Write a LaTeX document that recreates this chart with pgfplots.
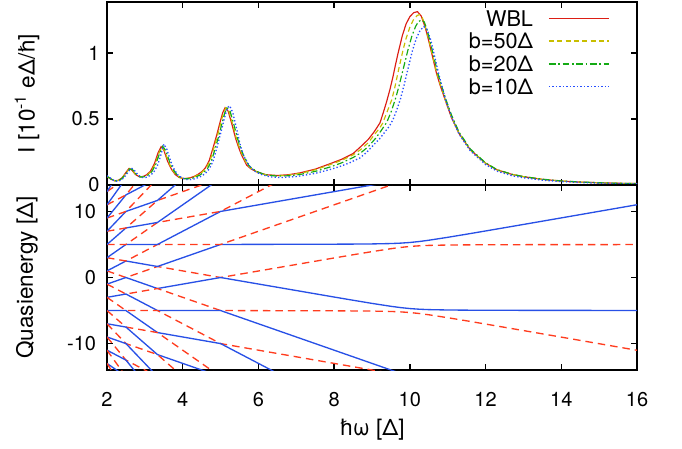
\documentclass[border=0pt]{standalone}
\usepackage{fontspec}
\setmainfont{TeX Gyre Heros}
\usepackage{pgfplots}
\pgfplotsset{compat=1.18}
\definecolor{wblred}{RGB}{220,30,20}
\definecolor{bfiftyyellow}{RGB}{200,190,0}
\definecolor{btwentygreen}{RGB}{20,170,20}
\definecolor{btenblue}{RGB}{40,80,255}
\definecolor{qblue}{RGB}{40,80,230}
\definecolor{qred}{RGB}{255,60,30}
\pgfplotsset{
  common/.style={scale only axis, width=318pt, xmin=2, xmax=16, xtick={2,4,...,16},
    axis line style={line width=1.1pt}, major tick length=3.5pt,
    every tick/.style={black, line width=0.8pt}, tick align=inside,
    /pgf/number format/assume math mode=true,
    tick label style={font=\fontsize{12}{14}\selectfont},
    label style={font=\fontsize{13.5}{16}\selectfont}},
  qb/.style={color=qblue, line width=0.8pt, solid},
  qr/.style={color=qred, line width=0.8pt, dash pattern=on 4.5pt off 3pt},
}
\begin{document}
\begin{tikzpicture}
\path[use as bounding box] (-64.2pt,-46.8pt) rectangle (345pt,222pt);
\begin{axis}[common, at={(0,111pt)}, anchor=south west, height=109.8pt,
  ymin=0, ymax=1.386, ytick={0,0.5,1}, xticklabel=\empty,
  yticklabel style={xshift=-1pt},
  ylabel={I [10\textsuperscript{-1} eΔ/ħ]},
  ylabel style={at={(axis description cs:-0.151,0.5)}, anchor=center},
  legend style={draw=none, fill=none, at={(1,1)}, anchor=north east, xshift=-16.2pt, yshift=-4.9pt,
    inner sep=0pt, row sep=4.2pt, column sep=9pt, font=\fontsize{13}{15}\selectfont,
    nodes={inner sep=0pt, text height=9.4pt, text depth=0pt}},
  legend plot pos=right, legend cell align=right]
\addplot[color=wblred, line width=0.7pt, legend image code/.code={\draw[color=wblred, line width=0.9pt] (0pt,0pt) -- (36pt,0pt);}] coordinates {(2.0,0.065)(2.1,0.045)(2.2,0.032)(2.3,0.035)(2.4,0.055)(2.5,0.095)(2.58,0.125)(2.65,0.115)(2.75,0.08)(2.85,0.063)(2.95,0.064)(3.05,0.078)(3.15,0.105)(3.25,0.16)(3.35,0.245)(3.43,0.29)(3.5,0.265)(3.6,0.18)(3.7,0.12)(3.8,0.08)(3.9,0.058)(4.0,0.05)(4.1,0.05)(4.2,0.055)(4.3,0.065)(4.4,0.08)(4.5,0.10)(4.6,0.13)(4.7,0.185)(4.8,0.28)(4.9,0.38)(5.0,0.49)(5.06,0.55)(5.12,0.585)(5.2,0.56)(5.3,0.46)(5.4,0.35)(5.47,0.29)(5.55,0.23)(5.69,0.15)(5.8,0.123)(5.95,0.10)(6.2,0.078)(6.5,0.072)(6.8,0.078)(7.1,0.092)(7.5,0.12)(7.9,0.162)(8.2,0.195)(8.5,0.238)(8.7,0.29)(8.9,0.345)(9.05,0.40)(9.21,0.47)(9.3,0.55)(9.39,0.635)(9.475,0.725)(9.55,0.815)(9.62,0.91)(9.69,1.0)(9.8,1.13)(9.9,1.22)(10.0,1.275)(10.1,1.305)(10.2,1.313)(10.3,1.28)(10.4,1.2)(10.5,1.09)(10.6,0.97)(10.7,0.85)(10.8,0.755)(10.95,0.63)(11.1,0.51)(11.3,0.39)(11.6,0.265)(12.0,0.165)(12.3,0.115)(12.7,0.08)(13.0,0.063)(13.5,0.043)(14.0,0.03)(14.5,0.022)(15.0,0.017)(15.5,0.013)(16.0,0.011)};
\addlegendentry{WBL}
\addplot[color=bfiftyyellow, line width=0.7pt, dash pattern=on 3pt off 2pt, legend image code/.code={\draw[color=bfiftyyellow, line width=0.9pt, dash pattern=on 3pt off 2pt] (0pt,0pt) -- (36pt,0pt);}] coordinates {(2.0,0.065)(2.1,0.046)(2.2,0.032)(2.3,0.034)(2.4,0.052)(2.5,0.09)(2.6,0.125)(2.67,0.112)(2.77,0.078)(2.87,0.062)(2.97,0.064)(3.07,0.077)(3.17,0.103)(3.27,0.157)(3.37,0.24)(3.45,0.29)(3.52,0.262)(3.62,0.178)(3.72,0.118)(3.82,0.079)(3.92,0.057)(4.02,0.049)(4.12,0.049)(4.22,0.054)(4.32,0.064)(4.42,0.079)(4.52,0.099)(4.62,0.129)(4.72,0.183)(4.82,0.277)(4.92,0.377)(5.02,0.487)(5.08,0.548)(5.14,0.585)(5.22,0.56)(5.32,0.46)(5.42,0.35)(5.49,0.29)(5.57,0.23)(5.71,0.15)(5.82,0.123)(5.97,0.099)(6.2,0.077)(6.5,0.07)(6.8,0.075)(7.1,0.088)(7.5,0.115)(7.9,0.155)(8.2,0.187)(8.5,0.228)(8.7,0.268)(8.9,0.32)(9.1,0.395)(9.2,0.43)(9.28,0.467)(9.4,0.555)(9.52,0.644)(9.6,0.735)(9.7,0.87)(9.82,1.023)(9.9,1.11)(10.0,1.195)(10.1,1.255)(10.2,1.285)(10.26,1.29)(10.32,1.275)(10.4,1.21)(10.5,1.1)(10.6,0.98)(10.7,0.86)(10.8,0.765)(10.95,0.635)(11.1,0.515)(11.3,0.392)(11.6,0.266)(12.0,0.165)(12.3,0.115)(12.7,0.08)(13.0,0.063)(13.5,0.043)(14.0,0.03)(14.5,0.022)(15.0,0.017)(15.5,0.013)(16.0,0.011)};
\addlegendentry{b=50Δ}
\addplot[color=btwentygreen, line width=0.7pt, dash pattern=on 4pt off 1.6pt on 1pt off 1.6pt, legend image code/.code={\draw[color=btwentygreen, line width=1pt, dash pattern=on 4pt off 1.6pt on 1pt off 1.6pt] (0pt,0pt) -- (36pt,0pt);}] coordinates {(2.0,0.066)(2.1,0.047)(2.2,0.032)(2.3,0.033)(2.4,0.05)(2.5,0.085)(2.6,0.122)(2.68,0.115)(2.78,0.078)(2.88,0.06)(2.98,0.062)(3.08,0.074)(3.18,0.1)(3.28,0.15)(3.38,0.232)(3.47,0.293)(3.55,0.262)(3.65,0.178)(3.75,0.117)(3.85,0.077)(3.95,0.055)(4.05,0.047)(4.15,0.047)(4.25,0.052)(4.35,0.061)(4.45,0.075)(4.55,0.094)(4.65,0.122)(4.75,0.175)(4.85,0.268)(4.95,0.37)(5.05,0.48)(5.11,0.545)(5.17,0.583)(5.25,0.56)(5.35,0.46)(5.45,0.35)(5.52,0.29)(5.6,0.23)(5.74,0.15)(5.85,0.122)(6.0,0.097)(6.2,0.076)(6.5,0.067)(6.8,0.07)(7.1,0.08)(7.5,0.103)(7.9,0.137)(8.2,0.168)(8.5,0.208)(8.7,0.243)(8.9,0.29)(9.1,0.355)(9.25,0.415)(9.39,0.475)(9.5,0.55)(9.61,0.644)(9.7,0.735)(9.8,0.85)(9.95,1.023)(10.05,1.125)(10.15,1.2)(10.22,1.235)(10.3,1.25)(10.38,1.235)(10.45,1.18)(10.55,1.07)(10.65,0.95)(10.75,0.835)(10.85,0.74)(10.95,0.65)(11.1,0.53)(11.3,0.40)(11.6,0.272)(12.0,0.168)(12.3,0.117)(12.7,0.081)(13.0,0.064)(13.5,0.044)(14.0,0.031)(14.5,0.023)(15.0,0.017)(15.5,0.013)(16.0,0.011)};
\addlegendentry{b=20Δ}
\addplot[color=btenblue, line width=0.8pt, dash pattern=on 0.8pt off 1.3pt, legend image code/.code={\draw[color=btenblue, line width=0.9pt, dash pattern=on 0.8pt off 1.3pt] (0pt,0pt) -- (36pt,0pt);}] coordinates {(2.0,0.07)(2.1,0.05)(2.2,0.031)(2.3,0.028)(2.4,0.042)(2.5,0.075)(2.6,0.115)(2.66,0.125)(2.73,0.108)(2.83,0.073)(2.93,0.057)(3.03,0.058)(3.13,0.07)(3.23,0.095)(3.33,0.145)(3.42,0.225)(3.5,0.31)(3.58,0.272)(3.68,0.18)(3.78,0.115)(3.88,0.074)(4.0,0.05)(4.1,0.042)(4.2,0.041)(4.3,0.046)(4.4,0.055)(4.5,0.068)(4.6,0.088)(4.7,0.122)(4.8,0.18)(4.91,0.29)(5.0,0.39)(5.1,0.505)(5.18,0.585)(5.24,0.6)(5.32,0.55)(5.42,0.43)(5.53,0.29)(5.62,0.215)(5.77,0.14)(5.9,0.105)(6.05,0.082)(6.3,0.062)(6.6,0.056)(7.0,0.064)(7.5,0.088)(7.9,0.118)(8.15,0.14)(8.4,0.167)(8.68,0.205)(8.85,0.245)(9.03,0.3)(9.2,0.35)(9.35,0.405)(9.47,0.45)(9.56,0.5)(9.65,0.565)(9.75,0.65)(9.85,0.76)(9.95,0.88)(10.07,1.02)(10.17,1.11)(10.27,1.17)(10.37,1.2)(10.45,1.18)(10.55,1.1)(10.65,0.98)(10.75,0.855)(10.85,0.745)(10.95,0.64)(11.1,0.515)(11.3,0.385)(11.6,0.258)(12.0,0.155)(12.3,0.105)(12.7,0.07)(13.0,0.055)(13.5,0.037)(14.0,0.026)(14.5,0.019)(15.0,0.014)(15.5,0.011)(16.0,0.009)};
\addlegendentry{b=10Δ}
\end{axis}
\begin{axis}[common, at={(0,0)}, anchor=south west, height=111pt,
  ymin=-14, ymax=14, ytick={-10,0,10},
  yticklabel style={xshift=-3pt},
  xticklabel shift=10pt,
  xlabel={ħω [Δ]}, ylabel={Quasienergy [Δ]},
  xlabel style={at={(axis description cs:0.5,-0.324)}, anchor=center},
  ylabel style={at={(axis description cs:-0.151,0.5)}, anchor=center}]
% positive branches
\addplot[qr] coordinates {(2,1)(2.5,0)(3.3333,1.6667)(5,0)(7,1.97)(8,2.956)(8.5,3.442)(9,3.917)(9.5,4.36)(9.75,4.55)(10,4.7)(10.25,4.8)(10.5,4.86)(11,4.917)(11.5,4.942)(12,4.956)(13,4.97)(14,4.978)(16,4.985)};
\addplot[qb] coordinates {(2,1)(2.5,2.5)(3.3333,1.6667)(5,5)(7,5.03)(8,5.044)(8.5,5.058)(9,5.083)(9.5,5.14)(9.75,5.2)(10,5.3)(10.25,5.45)(10.5,5.64)(11,6.083)(11.5,6.558)(12,7.044)(13,8.03)(14,9.022)(16,11.015)};
\addplot[qr] coordinates {(2,3)(2.5,2.5)(3.3333,5)(5,5)(10,15)};
\addplot[qb] coordinates {(2,3)(2.5,5)(3.3333,5)(5,10)(10,15)};
\addplot[qr] coordinates {(2,5)(2.5,5)(3.3333,8.3333)(5,10)(10,25)};
\addplot[qb] coordinates {(2,5)(2.5,7.5)(3.3333,8.3333)(5,15)};
\addplot[qr] coordinates {(2,7)(2.5,7.5)(3.3333,11.6667)(5,15)};
\addplot[qb] coordinates {(2,7)(2.5,10)(3.3333,11.6667)(5,20)};
\addplot[qr] coordinates {(2,9)(2.5,10)(3.3333,15)};
\addplot[qb] coordinates {(2,9)(2.5,12.5)(3.3333,15)};
\addplot[qr] coordinates {(2,11)(2.5,12.5)(3.3333,18.3333)};
\addplot[qb] coordinates {(2,11)(2.5,15)};
\addplot[qr] coordinates {(2,13)(2.5,15)};
\addplot[qb] coordinates {(2,13)(2.5,17.5)};
% negative branches
\addplot[qb] coordinates {(2,-1)(2.5,0)(3.3333,-1.6667)(5,0)(7,-1.97)(8,-2.956)(8.5,-3.442)(9,-3.917)(9.5,-4.36)(9.75,-4.55)(10,-4.7)(10.25,-4.8)(10.5,-4.86)(11,-4.917)(11.5,-4.942)(12,-4.956)(13,-4.97)(14,-4.978)(16,-4.985)};
\addplot[qr] coordinates {(2,-1)(2.5,-2.5)(3.3333,-1.6667)(5,-5)(7,-5.03)(8,-5.044)(8.5,-5.058)(9,-5.083)(9.5,-5.14)(9.75,-5.2)(10,-5.3)(10.25,-5.45)(10.5,-5.64)(11,-6.083)(11.5,-6.558)(12,-7.044)(13,-8.03)(14,-9.022)(16,-11.015)};
\addplot[qb] coordinates {(2,-3)(2.5,-2.5)(3.3333,-5)(5,-5)(10,-15)};
\addplot[qr] coordinates {(2,-3)(2.5,-5)(3.3333,-5)(5,-10)(10,-15)};
\addplot[qb] coordinates {(2,-5)(2.5,-5)(3.3333,-8.3333)(5,-10)(10,-25)};
\addplot[qr] coordinates {(2,-5)(2.5,-7.5)(3.3333,-8.3333)(5,-15)};
\addplot[qb] coordinates {(2,-7)(2.5,-7.5)(3.3333,-11.6667)(5,-15)};
\addplot[qr] coordinates {(2,-7)(2.5,-10)(3.3333,-11.6667)(5,-20)};
\addplot[qb] coordinates {(2,-9)(2.5,-10)(3.3333,-15)};
\addplot[qr] coordinates {(2,-9)(2.5,-12.5)(3.3333,-15)};
\addplot[qb] coordinates {(2,-11)(2.5,-12.5)(3.3333,-18.3333)};
\addplot[qr] coordinates {(2,-11)(2.5,-15)};
\addplot[qb] coordinates {(2,-13)(2.5,-15)};
\addplot[qr] coordinates {(2,-13)(2.5,-17.5)};
\end{axis}
\end{tikzpicture}
\end{document}
